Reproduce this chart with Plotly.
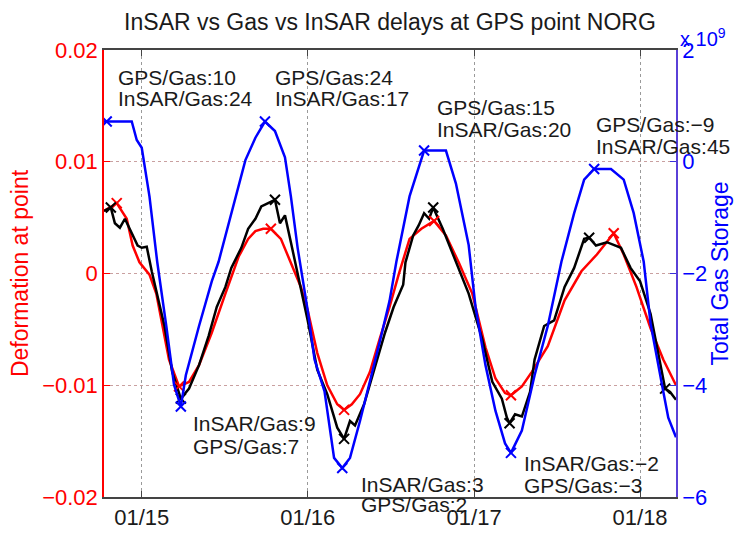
import plotly.graph_objects as go

# ---------------- data ----------------
gas_dates = ["2014-10-10", "2014-12-10", "2014-12-21", "2015-01-01", "2015-01-18", "2015-02-04",
             "2015-02-24", "2015-03-13", "2015-03-28", "2015-04-08", "2015-05-07", "2015-06-04",
             "2015-06-19", "2015-07-17", "2015-08-17", "2015-09-08", "2015-09-29", "2015-10-21",
             "2015-11-12", "2015-11-25", "2015-12-10", "2016-01-01", "2016-01-16", "2016-02-07",
             "2016-02-28", "2016-03-17", "2016-04-03", "2016-04-25", "2016-05-17", "2016-06-07",
             "2016-06-29", "2016-07-14", "2016-08-12", "2016-09-13", "2016-10-31", "2016-11-22",
             "2016-12-20", "2017-01-04", "2017-01-26", "2017-02-17", "2017-03-10", "2017-03-23",
             "2017-04-16", "2017-05-14", "2017-06-12", "2017-07-12", "2017-08-09", "2017-08-31",
             "2017-09-22", "2017-10-29", "2017-11-26", "2017-12-18", "2018-01-09", "2018-01-24",
             "2018-02-21", "2018-03-04", "2018-03-21"]
gas_storage_e9 = [0.72, 0.72, 0.39, 0.25, -0.62, -1.79,
                  -2.94, -3.99, -4.38, -3.82, -2.94, -2.14,
                  -1.79, -0.92, 0.03, 0.43, 0.72, 0.55,
                  0.08, -0.62, -1.55, -2.66, -3.54, -4.11,
                  -5.30, -5.48, -5.30, -4.64, -3.94, -3.24,
                  -2.49, -1.79, -0.62, 0.20, 0.20, -0.39,
                  -1.49, -2.59, -3.64, -4.46, -5.04, -5.21,
                  -4.81, -3.82, -2.94, -1.79, -0.92, -0.32,
                  -0.13, -0.13, -0.32, -0.92, -1.79, -2.89,
                  -4.11, -4.58, -4.93]

gps_dates = ["2014-10-10", "2014-11-07", "2014-11-29", "2014-12-12", "2014-12-27", "2015-01-18",
             "2015-02-02", "2015-02-15", "2015-03-02", "2015-03-24", "2015-04-15", "2015-05-07",
             "2015-06-04", "2015-07-04", "2015-08-02", "2015-08-23", "2015-09-08", "2015-09-25",
             "2015-10-12", "2015-11-03", "2015-11-25", "2015-12-17", "2016-01-01", "2016-01-22",
             "2016-02-13", "2016-03-06", "2016-03-21", "2016-04-07", "2016-04-25", "2016-05-17",
             "2016-06-07", "2016-06-29", "2016-07-19", "2016-08-12", "2016-09-07", "2016-10-05",
             "2016-10-31", "2016-11-28", "2016-12-28", "2017-01-26", "2017-02-17", "2017-03-10",
             "2017-03-23", "2017-04-16", "2017-05-08", "2017-06-12", "2017-07-19", "2017-08-25",
             "2017-09-28", "2017-10-20", "2017-11-04", "2017-11-26", "2017-12-24", "2018-01-24",
             "2018-02-21", "2018-03-21"]
gps_defo = [0.0056, 0.0063, 0.0049, 0.0025, 0.0010, -0.0001,
            -0.0018, -0.0047, -0.0077, -0.0101, -0.0097, -0.0082,
            -0.0053, -0.0018, 0.0015, 0.0031, 0.0038, 0.0040,
            0.0040, 0.0031, 0.0010, -0.0012, -0.0033, -0.0071,
            -0.0100, -0.0117, -0.0122, -0.0117, -0.0108, -0.0088,
            -0.0059, -0.0030, -0.0001, 0.0031, 0.0040, 0.0047,
            0.0034, 0.0010, -0.0018, -0.0066, -0.0094, -0.0107,
            -0.0109, -0.0101, -0.0088, -0.0065, -0.0024, 0.0002,
            0.0017, 0.0028, 0.0036, 0.0017, -0.0012, -0.0049,
            -0.0077, -0.0100]

insar_dates = ["2014-10-10", "2014-10-25", "2014-11-03", "2014-11-14", "2014-11-25", "2014-12-05",
               "2014-12-12", "2014-12-23", "2015-01-01", "2015-01-12", "2015-01-23", "2015-02-04",
               "2015-02-20", "2015-03-09", "2015-03-28", "2015-04-15", "2015-05-07", "2015-05-28",
               "2015-06-15", "2015-07-04", "2015-07-17", "2015-08-08", "2015-08-23", "2015-09-08",
               "2015-09-21", "2015-10-06", "2015-10-21", "2015-11-01", "2015-11-12", "2015-11-25",
               "2015-12-17", "2016-01-01", "2016-01-22", "2016-02-13", "2016-03-06", "2016-03-21",
               "2016-04-03", "2016-04-14", "2016-05-04", "2016-05-21", "2016-06-01", "2016-06-19",
               "2016-07-08", "2016-07-29", "2016-08-03", "2016-08-20", "2016-09-01", "2016-09-13",
               "2016-09-24", "2016-10-03", "2016-10-24", "2016-11-22", "2016-12-20", "2017-01-19",
               "2017-02-10", "2017-03-03", "2017-03-14", "2017-03-20", "2017-04-01", "2017-04-16",
               "2017-05-04", "2017-05-14", "2017-06-04", "2017-06-26", "2017-07-19", "2017-08-09",
               "2017-08-31", "2017-09-11", "2017-09-26", "2017-10-20", "2017-11-20", "2017-12-11",
               "2018-01-01", "2018-01-24", "2018-02-14", "2018-02-25", "2018-03-08", "2018-03-21"]
insar_defo = [0.0056, 0.0059, 0.0045, 0.0041, 0.0049, 0.0040,
              0.0034, 0.0025, 0.0023, 0.0024, 0.0002, -0.0018,
              -0.0047, -0.0088, -0.0112, -0.0103, -0.0082, -0.0056,
              -0.0030, -0.0012, 0.0005, 0.0023, 0.0040, 0.0049,
              0.0060, 0.0063, 0.0066, 0.0045, 0.0052, 0.0028,
              -0.0012, -0.0042, -0.0086, -0.0108, -0.0138, -0.0148,
              -0.0132, -0.0136, -0.0117, -0.0094, -0.0077, -0.0053,
              -0.0030, -0.0010, 0.0010, 0.0034, 0.0043, 0.0054,
              0.0049, 0.0059, 0.0040, 0.0010, -0.0018, -0.0059,
              -0.0097, -0.0112, -0.0129, -0.0134, -0.0126, -0.0128,
              -0.0106, -0.0077, -0.0047, -0.0042, -0.0012, 0.0005,
              0.0031, 0.0032, 0.0025, 0.0028, 0.0023, 0.0005,
              -0.0007, -0.0036, -0.0079, -0.0103, -0.0106, -0.0113]

# extrema markers
gas_ext_dates = ["2014-10-16", "2015-03-28", "2015-09-29", "2016-03-17", "2016-09-13", "2017-03-23", "2017-09-22"]
gas_ext_vals = [0.72, -4.38, 0.72, -5.48, 0.20, -5.21, -0.13]
gps_ext_dates = ["2014-11-07", "2015-03-24", "2015-10-12", "2016-03-21", "2016-10-05", "2017-03-23", "2017-11-04"]
gps_ext_vals = [0.0063, -0.0101, 0.0040, -0.0122, 0.0047, -0.0109, 0.0036]
insar_ext_dates = ["2014-10-25", "2015-03-28", "2015-10-21", "2016-03-21", "2016-10-03", "2017-03-20", "2017-09-11", "2018-02-25"]
insar_ext_vals = [0.0059, -0.0112, 0.0066, -0.0148, 0.0059, -0.0134, 0.0032, -0.0103]

# delay annotations: (line1, line2)
delay_labels = [("GPS/Gas:10", "InSAR/Gas:24"),
                ("GPS/Gas:24", "InSAR/Gas:17"),
                ("GPS/Gas:15", "InSAR/Gas:20"),
                ("GPS/Gas:\u22129", "InSAR/Gas:45"),
                ("InSAR/Gas:9", "GPS/Gas:7"),
                ("InSAR/Gas:3", "GPS/Gas:2"),
                ("InSAR/Gas:\u22122", "GPS/Gas:\u22123")]

# ---------------- figure ----------------
FONT = "Liberation Sans, Arial, Helvetica, sans-serif"
W, H = 737, 542
L, R, T, B = 104, 683, 50, 508

fig = go.Figure()
fig.add_trace(go.Scatter(x=gps_dates, y=gps_defo, mode="lines",
                         line=dict(color="#ff0000", width=2.5), showlegend=False))
fig.add_trace(go.Scatter(x=insar_dates, y=insar_defo, mode="lines",
                         line=dict(color="#000000", width=2.5), showlegend=False))
fig.add_trace(go.Scatter(x=gps_ext_dates, y=gps_ext_vals, mode="markers",
                         marker=dict(symbol="x-thin", size=10, line=dict(color="#ff0000", width=2)),
                         showlegend=False))
fig.add_trace(go.Scatter(x=insar_ext_dates, y=insar_ext_vals, mode="markers",
                         marker=dict(symbol="x-thin", size=10, line=dict(color="#000000", width=2)),
                         showlegend=False))
fig.add_trace(go.Scatter(x=gas_dates, y=gas_storage_e9, mode="lines", yaxis="y2",
                         line=dict(color="#0000ff", width=2.5), showlegend=False))
fig.add_trace(go.Scatter(x=gas_ext_dates, y=gas_ext_vals, mode="markers", yaxis="y2",
                         marker=dict(symbol="x-thin", size=10, line=dict(color="#0000ff", width=2)),
                         showlegend=False))

def px_to_paper(px, py):
    return (px - L) / (R - L), (B - py) / (B - T)

ann_pos = [(116, 78, 100), (275, 78, 100), (439, 109, 131), (600, 126, 149),
           (192, 433, 456), (362, 495, 516), (527, 474, 496)]
annotations = []
for (l1, l2), (ax_, y1, y2) in zip(delay_labels, ann_pos):
    for txt, yy in ((l1, y1), (l2, y2)):
        xp, yp = px_to_paper(ax_, yy)
        annotations.append(dict(text=txt, x=xp, y=yp, xref="paper", yref="paper",
                                xanchor="left", yanchor="middle", showarrow=False,
                                font=dict(family=FONT, size=21, color="#1a1a1a")))
xp, yp = px_to_paper(685, 37)
annotations.append(dict(text="x 10<sup>9</sup>", x=xp, y=yp, xref="paper", yref="paper",
                        xanchor="left", yanchor="middle", showarrow=False,
                        font=dict(family=FONT, size=20, color="#0000ff")))

fig.update_layout(
    width=W, height=H,
    margin=dict(l=L, r=W - R, t=T, b=H - B, pad=0),
    paper_bgcolor="white", plot_bgcolor="white",
    title=dict(text="InSAR vs Gas vs InSAR delays at GPS point NORG",
               x=0.5, xref="paper", y=1 - 22 / H, yref="container",
               xanchor="center", yanchor="middle",
               font=dict(family=FONT, size=23, color="#1a1a1a")),
    xaxis=dict(type="date", range=["2014-10-10", "2018-03-21"],
               tick0="2015-01-01", dtick="M12", tickformat="%m/%y",
               ticks="inside", ticklen=6, tickcolor="#444", tickwidth=1,
               showline=True, linecolor="#444", linewidth=1.5, mirror="ticks",
               showgrid=True, gridcolor="#9a9a9a", griddash="dot", gridwidth=1,
               tickfont=dict(family=FONT, size=22, color="#1a1a1a"), zeroline=False),
    yaxis=dict(range=[-0.02, 0.02], dtick=0.01, tick0=0,
               ticks="inside", ticklen=6, tickcolor="#ff0000",
               showline=True, linecolor="#ff0000", linewidth=1.5,
               showgrid=True, gridcolor="#c9a0a0", griddash="dot", gridwidth=1,
               zeroline=False,
               tickfont=dict(family=FONT, size=22, color="#ff0000"),
               title=dict(text="Deformation at point", standoff=7,
                          font=dict(family=FONT, size=23, color="#ff0000"))),
    yaxis2=dict(range=[-6, 2], dtick=2, tick0=0, overlaying="y", side="right",
                ticks="inside", ticklen=6, tickcolor="#3a2fd8",
                showline=True, linecolor="#5a40d8", linewidth=1.5,
                showgrid=False, zeroline=False,
                tickfont=dict(family=FONT, size=22, color="#0000ff"),
                title=dict(text="Total Gas Storage", standoff=2,
                           font=dict(family=FONT, size=23, color="#0000ff"))),
    annotations=annotations,
)

fig.write_html("out.html")
